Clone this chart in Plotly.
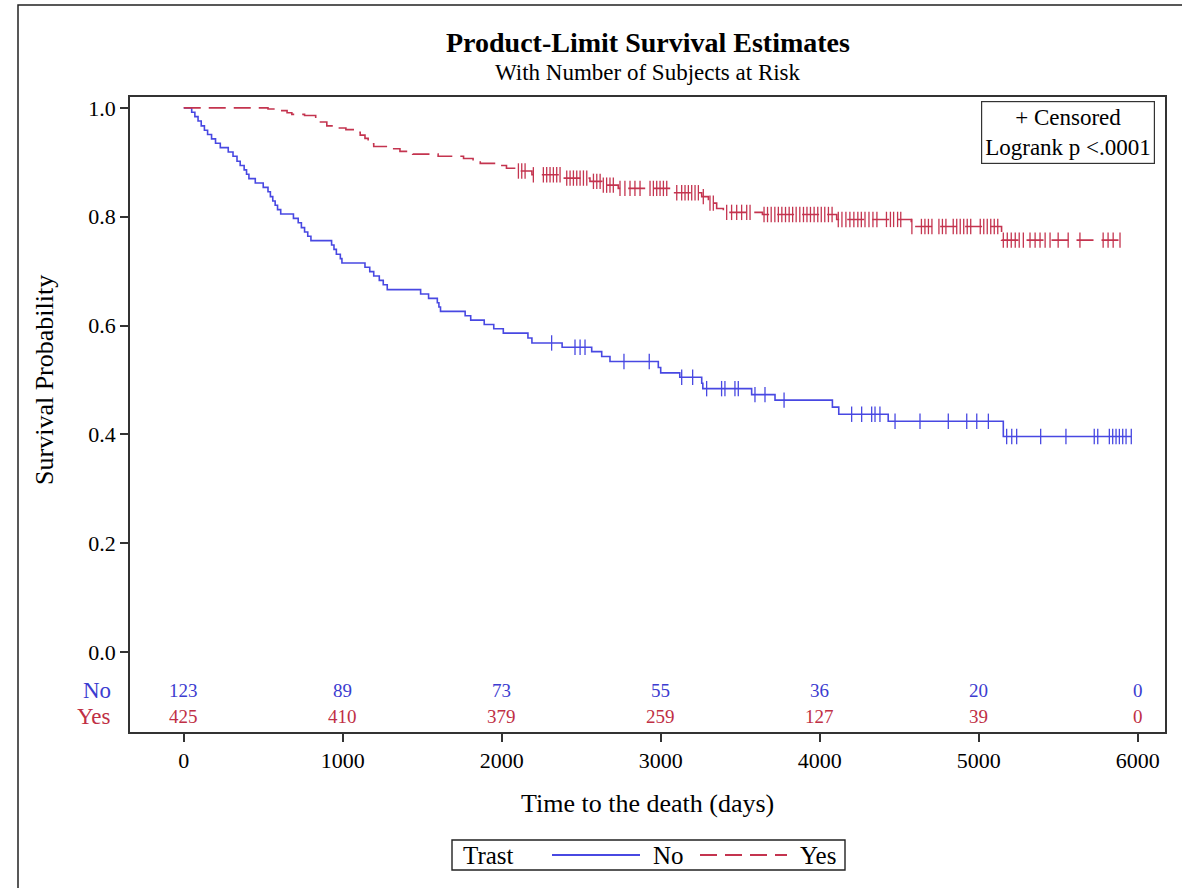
import numpy as np
import plotly.graph_objects as go

# Kaplan-Meier step data: event times (days) and survival after each event
no_times = [0, 50, 70, 90, 110, 130, 150, 175, 200, 230, 280, 310, 335, 355, 380, 395, 410,
            450, 500, 530, 545, 560, 575, 590, 610, 690, 720, 740, 760, 780, 800, 930, 945,
            960, 985, 995, 1140, 1170, 1195, 1230, 1255, 1280, 1490, 1540, 1595, 1605, 1615,
            1770, 1805, 1890, 1950, 2010, 2165, 2190, 2380, 2566, 2629, 2681, 2985, 3000,
            3120, 3258, 3265, 3572, 3719, 4080, 4120, 4431, 5155]
no_surv = [1.0, 0.992, 0.984, 0.976, 0.967, 0.959, 0.951, 0.943, 0.935, 0.927, 0.919, 0.911,
           0.902, 0.894, 0.886, 0.878, 0.870, 0.862, 0.854, 0.846, 0.837, 0.829, 0.821, 0.813,
           0.805, 0.797, 0.789, 0.780, 0.772, 0.764, 0.756, 0.748, 0.740, 0.731, 0.723, 0.715,
           0.707, 0.699, 0.691, 0.683, 0.675, 0.666, 0.658, 0.650, 0.642, 0.634, 0.626, 0.618,
           0.610, 0.602, 0.594, 0.586, 0.577, 0.568, 0.560, 0.552, 0.543, 0.534, 0.523, 0.513,
           0.505, 0.494, 0.484, 0.473, 0.463, 0.450, 0.437, 0.424, 0.396]
no_censored = [2314, 2461, 2493, 2524, 2769, 2928, 3132, 3201, 3289, 3383, 3404, 3467, 3488,
               3593, 3656, 3776, 4201, 4264, 4327, 4348, 4379, 4474, 4631, 4809, 4925, 4988,
               5061, 5176, 5208, 5239, 5390, 5549, 5727, 5749, 5822, 5843, 5864, 5885, 5906,
               5927, 5960]

yes_times = [0, 530, 600, 650, 680, 760, 830, 860, 900, 960, 1020, 1090, 1110, 1140, 1160,
             1180, 1195, 1280, 1360, 1440, 1600, 1760, 1820, 1865, 1970, 2030, 2090, 2190,
             2388, 2555, 2629, 2733, 3069, 3258, 3300, 3352, 3394, 3640, 4107, 4576, 5144]
yes_surv = [1.0, 0.998, 0.995, 0.991, 0.988, 0.986, 0.981, 0.974, 0.967, 0.963, 0.960, 0.955,
            0.950, 0.944, 0.939, 0.934, 0.929, 0.925, 0.920, 0.915, 0.911, 0.907, 0.903,
            0.898, 0.894, 0.889, 0.884, 0.877, 0.871, 0.865, 0.858, 0.852, 0.844, 0.837,
            0.825, 0.815, 0.808, 0.804, 0.795, 0.782, 0.757]
yes_censored = [2105, 2126, 2147, 2199, 2262, 2283, 2304, 2325, 2346, 2367, 2409, 2430, 2451,
                2472, 2493, 2514, 2535, 2577, 2598, 2619, 2639, 2660, 2681, 2702, 2744, 2775,
                2807, 2838, 2870, 2933, 2954, 2975, 2996, 3017, 3038, 3101, 3132, 3153, 3174,
                3195, 3216, 3237, 3268, 3310, 3331, 3415, 3446, 3478, 3509, 3541, 3562, 3650,
                3672, 3695, 3718, 3740, 3762, 3785, 3808, 3830, 3852, 3875, 3898, 3920, 3942,
                3965, 3988, 4010, 4032, 4055, 4078, 4117, 4140, 4165, 4190, 4215, 4240, 4262,
                4285, 4310, 4335, 4360, 4420, 4445, 4465, 4490, 4510, 4580, 4640, 4662, 4684,
                4706, 4750, 4772, 4794, 4840, 4862, 4884, 4906, 4928, 4950, 5010, 5032, 5054,
                5076, 5098, 5120, 5155, 5180, 5205, 5230, 5255, 5281, 5323, 5355, 5386, 5418,
                5449, 5500, 5563, 5637, 5783, 5814, 5846, 5889]

# Number at risk table
risk_times = [0, 1000, 2000, 3000, 4000, 5000, 6000]
risk_no = [123, 89, 73, 55, 36, 20, 0]
risk_yes = [425, 410, 379, 259, 127, 39, 0]

x_ticks = [0, 1000, 2000, 3000, 4000, 5000, 6000]
y_ticks = [0.0, 0.2, 0.4, 0.6, 0.8, 1.0]

BLUE = "#4848e2"
RED = "#c4344f"
BLUE_TXT = "#3c3cd0"
RED_TXT = "#c02f45"
FONT = "Liberation Serif"
AXIS = "#333333"
RED_DASH = "17px,8px"

# plot area in pixels, used to place the page furniture around it
L, R, T, B = 130, 17, 97, 156
W, H = 1182, 888
PW, PH = W - L - R, H - T - B


def px_x(px):
    return (px - L) / PW


def px_y(py):
    return (H - B - py) / PH


def step_value(times, surv, t):
    idx = np.searchsorted(np.asarray(times), t, side="right") - 1
    return np.asarray(surv)[idx]


fig = go.Figure()

groups = [
    ("No", no_times, no_surv, no_censored, BLUE, "solid"),
    ("Yes", yes_times, yes_surv, yes_censored, RED, RED_DASH),
]
for name, times, surv, cens, color, dash in groups:
    end_t = max(cens[-1], times[-1])
    xs = list(times) + [end_t]
    ys = list(surv) + [surv[-1]]
    fig.add_trace(go.Scatter(
        x=xs, y=ys, mode="lines", line=dict(color=color, width=1.6, dash=dash, shape="hv"),
        name=name, showlegend=False))
    fig.add_trace(go.Scatter(
        x=cens, y=step_value(times, surv, cens), mode="markers",
        marker=dict(symbol="line-ns-open", size=11, color=color,
                    line=dict(color=color, width=1.3)),
        name=name + " censored", showlegend=False))

# at-risk counts inside the plot frame
for t, n_no, n_yes in zip(risk_times, risk_no, risk_yes):
    fig.add_annotation(x=t, y=-0.070, xref="x", yref="y", text=str(n_no), showarrow=False,
                       font=dict(family=FONT, size=19, color=BLUE_TXT))
    fig.add_annotation(x=t, y=-0.119, xref="x", yref="y", text=str(n_yes), showarrow=False,
                       font=dict(family=FONT, size=19, color=RED_TXT))
fig.add_annotation(x=-0.016, y=-0.070, xref="paper", yref="y", text="No", showarrow=False,
                   xanchor="right", yanchor="middle",
                   font=dict(family=FONT, size=23, color=BLUE_TXT))
fig.add_annotation(x=-0.016, y=-0.119, xref="paper", yref="y", text="Yes", showarrow=False,
                   xanchor="right", yanchor="middle",
                   font=dict(family=FONT, size=23, color=RED_TXT))

# titles
fig.add_annotation(x=0.5, y=px_y(43), xref="paper", yref="paper", showarrow=False,
                   xanchor="center", yanchor="middle",
                   text="<b>Product-Limit Survival Estimates</b>",
                   font=dict(family=FONT, size=28, color="black"))
fig.add_annotation(x=0.5, y=px_y(73), xref="paper", yref="paper", showarrow=False,
                   xanchor="center", yanchor="middle",
                   text="With Number of Subjects at Risk",
                   font=dict(family=FONT, size=23, color="black"))
fig.add_annotation(x=px_x(45), y=0.5, xref="paper", yref="y", showarrow=False, textangle=-90,
                   xanchor="center", yanchor="middle",
                   text="Survival Probability", font=dict(family=FONT, size=26, color="black"))
fig.add_annotation(x=0.5, y=px_y(803), xref="paper", yref="paper", showarrow=False,
                   xanchor="center", yanchor="middle",
                   text="Time to the death (days)", font=dict(family=FONT, size=26, color="black"))

# inset box
fig.add_annotation(x=px_x(1068), y=px_y(132), xref="paper", yref="paper", showarrow=False,
                   xanchor="center", yanchor="middle",
                   text="+ Censored<br>Logrank p <.0001", align="center",
                   bordercolor="#333333", borderwidth=1.2, borderpad=3, bgcolor="white",
                   font=dict(family=FONT, size=23, color="black"))

# group legend below the axis title
leg_y = px_y(855)
fig.add_shape(type="rect", xref="paper", yref="paper", x0=px_x(452), x1=px_x(845),
              y0=px_y(870), y1=px_y(840), line=dict(color="#222222", width=1.4),
              fillcolor="white")
fig.add_annotation(x=px_x(461), y=leg_y, xref="paper", yref="paper", showarrow=False,
                   xanchor="left", yanchor="middle", text="Trast",
                   font=dict(family=FONT, size=25, color="black"))
fig.add_shape(type="line", xref="paper", yref="paper", x0=px_x(552), x1=px_x(640),
              y0=leg_y, y1=leg_y, line=dict(color=BLUE, width=1.8))
fig.add_annotation(x=px_x(651), y=leg_y, xref="paper", yref="paper", showarrow=False,
                   xanchor="left", yanchor="middle", text="No",
                   font=dict(family=FONT, size=25, color="black"))
fig.add_shape(type="line", xref="paper", yref="paper", x0=px_x(700), x1=px_x(787),
              y0=leg_y, y1=leg_y, line=dict(color=RED, width=1.8, dash=RED_DASH))
fig.add_annotation(x=px_x(798), y=leg_y, xref="paper", yref="paper", showarrow=False,
                   xanchor="left", yanchor="middle", text="Yes",
                   font=dict(family=FONT, size=25, color="black"))

# outer frame around the graph (left and top edges fall inside the page)
fig.add_shape(type="rect", xref="paper", yref="paper", x0=px_x(18), x1=1.1, y0=-0.4,
              y1=px_y(5), line=dict(color="#222222", width=1.5))

fig.update_xaxes(range=[-338, 6172], tickvals=x_ticks, ticks="outside", ticklen=8,
                 tickwidth=1.5, tickcolor=AXIS, showline=True, linecolor=AXIS, linewidth=1.5,
                 mirror=True, showgrid=False, zeroline=False,
                 tickfont=dict(family=FONT, size=22, color="black"))
fig.update_yaxes(range=[-0.147, 1.020], tickvals=y_ticks, tickformat=".1f", ticks="outside",
                 ticklen=8, tickwidth=1.5, tickcolor=AXIS, showline=True, linecolor=AXIS,
                 linewidth=1.5, mirror=True, showgrid=False, zeroline=False,
                 tickfont=dict(family=FONT, size=22, color="black"))

fig.update_layout(
    width=W, height=H,
    margin=dict(l=L, r=R, t=T, b=B),
    paper_bgcolor="white", plot_bgcolor="white",
    font=dict(family=FONT, color="black"),
    showlegend=False,
)

fig.write_html("out.html")
